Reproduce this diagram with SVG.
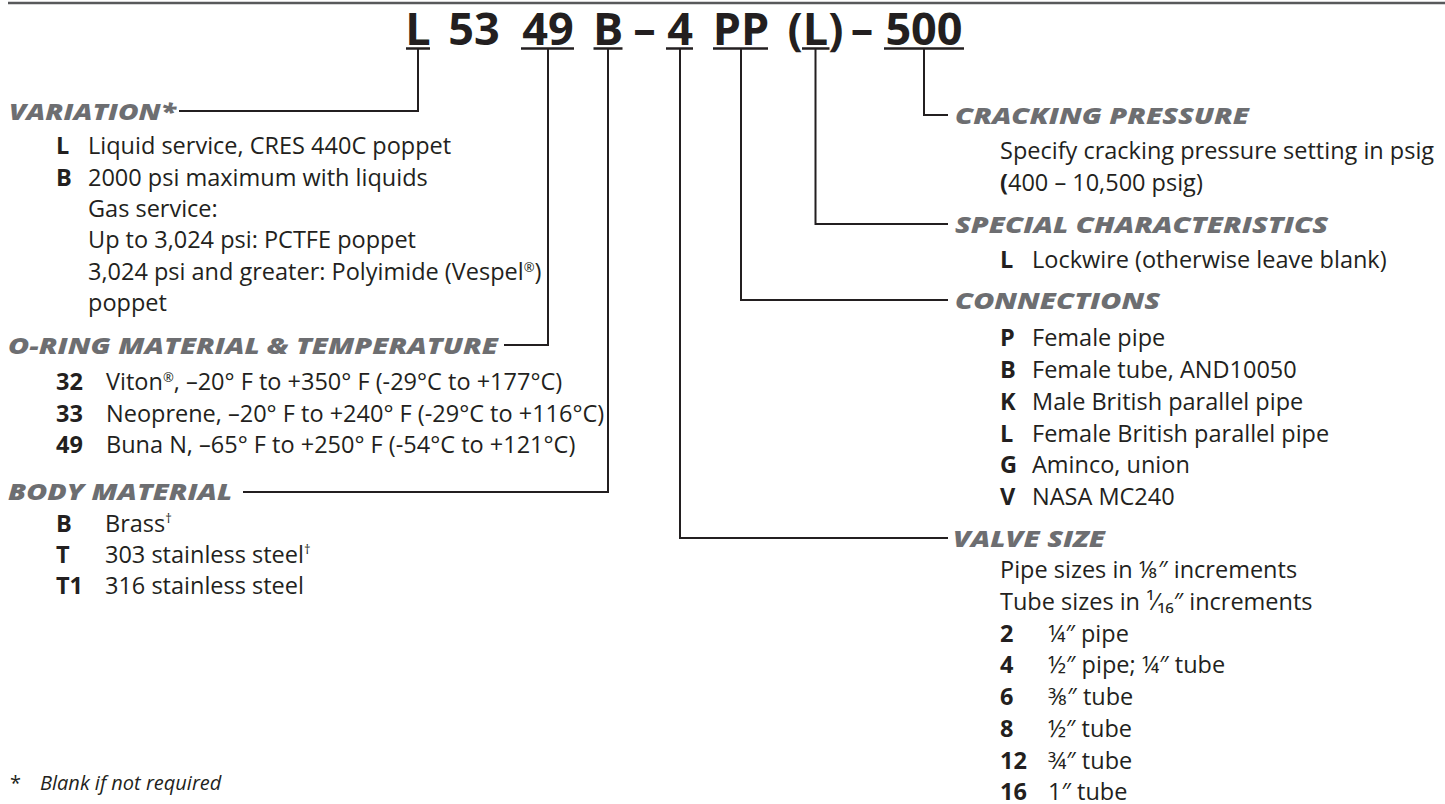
<svg xmlns="http://www.w3.org/2000/svg" width="1445" height="804" viewBox="0 0 1445 804">
<style>
.t{font-family:"Open Sans","Noto Sans","DejaVu Sans",sans-serif;font-size:23.5px;fill:#231f20}
.b{font-weight:700}
.h{font-family:"Open Sans","Noto Sans","DejaVu Sans",sans-serif;font-size:23.5px;font-weight:800;font-style:italic;fill:#6d6e71}
.ti{font-family:"Open Sans","Noto Sans","DejaVu Sans",sans-serif;font-size:45px;font-weight:700;fill:#231f20;text-anchor:middle}
.ln{stroke:#231f20;stroke-width:2;fill:none}
.ul{stroke:#231f20;stroke-width:2.5}
.rule{stroke:#58595b;stroke-width:2.5}
.fn{font-family:"Open Sans","Noto Sans","DejaVu Sans",sans-serif;font-size:20px;fill:#231f20}
</style>
<line class="rule" x1="8" y1="3" x2="1445" y2="3"/>
<g id="code">
<text class="ti" x="418" y="45">L</text>
<text class="ti" x="474" y="45">53</text>
<text class="ti" x="548" y="45">49</text>
<text class="ti" x="608" y="45">B</text>
<text class="ti" x="644.5" y="45">–</text>
<text class="ti" x="680" y="45">4</text>
<text class="ti" x="741" y="45">PP</text>
<text class="ti" x="815.5" y="45">(L)</text>
<text class="ti" x="862" y="45">–</text>
<text class="ti" x="924" y="45">500</text>
<line class="ul" x1="406" y1="48.5" x2="430" y2="48.5"/>
<line class="ul" x1="521" y1="48.5" x2="574" y2="48.5"/>
<line class="ul" x1="593.5" y1="48.5" x2="622.5" y2="48.5"/>
<line class="ul" x1="666" y1="48.5" x2="693" y2="48.5"/>
<line class="ul" x1="713" y1="48.5" x2="768" y2="48.5"/>
<line class="ul" x1="802" y1="48.5" x2="829.5" y2="48.5"/>
<line class="ul" x1="884" y1="48.5" x2="964" y2="48.5"/>
</g>
<g id="connectors">
<path class="ln" d="M418 48.5V111H179"/>
<path class="ln" d="M548 48.5V345H504"/>
<path class="ln" d="M608 48.5V492H243"/>
<path class="ln" d="M680 48.5V538H948"/>
<path class="ln" d="M741 48.5V300H948"/>
<path class="ln" d="M815.5 48.5V224H948"/>
<path class="ln" d="M924 48.5V115H948"/>
</g>
<g id="variation">
<text class="h" x="9" y="120" textLength="167" lengthAdjust="spacingAndGlyphs">VARIATION*</text>
<text class="t b" x="56" y="153.5">L</text><text class="t" x="88" y="153.5">Liquid service, CRES 440C poppet</text>
<text class="t b" x="56" y="185.5">B</text><text class="t" x="88" y="185.5">2000 psi maximum with liquids</text>
<text class="t" x="88" y="216.5">Gas service:</text>
<text class="t" x="88" y="247.5">Up to 3,024 psi: PCTFE poppet</text>
<text class="t" x="88" y="279.5">3,024 psi and greater: Polyimide (Vespel<tspan dy="-8" font-size="13">®</tspan><tspan dy="8">)</tspan></text>
<text class="t" x="88" y="310.5">poppet</text>
</g>
<g id="oring">
<text class="h" x="8" y="354" textLength="490" lengthAdjust="spacingAndGlyphs">O-RING MATERIAL &amp; TEMPERATURE</text>
<text class="t b" x="56" y="389.5">32</text><text class="t" x="106" y="389.5">Viton<tspan dy="-8" font-size="13">®</tspan><tspan dy="8">, –20° F to +350° F (-29°C to +177°C)</tspan></text>
<text class="t b" x="56" y="421.5">33</text><text class="t" x="106" y="421.5">Neoprene, –20° F to +240° F (-29°C to +116°C)</text>
<text class="t b" x="56" y="453">49</text><text class="t" x="106" y="453">Buna N, –65° F to +250° F (-54°C to +121°C)</text>
</g>
<g id="body">
<text class="h" x="8" y="499.5" textLength="224" lengthAdjust="spacingAndGlyphs">BODY MATERIAL</text>
<text class="t b" x="56" y="532">B</text><text class="t" x="105" y="532">Brass<tspan dy="-9" font-size="13">†</tspan></text>
<text class="t b" x="56" y="563">T</text><text class="t" x="105" y="563">303 stainless steel<tspan dy="-9" font-size="13">†</tspan></text>
<text class="t b" x="56" y="594">T1</text><text class="t" x="105" y="594">316 stainless steel</text>
</g>
<g id="cracking">
<text class="h" x="955" y="123.5" textLength="294" lengthAdjust="spacingAndGlyphs">CRACKING PRESSURE</text>
<text class="t" x="1000" y="158.5">Specify cracking pressure setting in psig</text>
<text class="t" x="1000" y="190.5"><tspan class="b">(</tspan>400 – 10,500 psig)</text>
</g>
<g id="special">
<text class="h" x="955" y="232.5" textLength="373" lengthAdjust="spacingAndGlyphs">SPECIAL CHARACTERISTICS</text>
<text class="t b" x="1000" y="267.5">L</text><text class="t" x="1032" y="267.5">Lockwire (otherwise leave blank)</text>
</g>
<g id="connections">
<text class="h" x="955" y="308.5" textLength="205" lengthAdjust="spacingAndGlyphs">CONNECTIONS</text>
<text class="t b" x="1000" y="345.5">P</text><text class="t" x="1032" y="345.5">Female pipe</text>
<text class="t b" x="1000" y="377.5">B</text><text class="t" x="1032" y="377.5">Female tube, AND10050</text>
<text class="t b" x="1000" y="409.5">K</text><text class="t" x="1032" y="409.5">Male British parallel pipe</text>
<text class="t b" x="1000" y="441.5">L</text><text class="t" x="1032" y="441.5">Female British parallel pipe</text>
<text class="t b" x="1000" y="472.5">G</text><text class="t" x="1032" y="472.5">Aminco, union</text>
<text class="t b" x="1000" y="504.5">V</text><text class="t" x="1032" y="504.5">NASA MC240</text>
</g>
<g id="valvesize">
<text class="h" x="953" y="546.5" textLength="152" lengthAdjust="spacingAndGlyphs">VALVE SIZE</text>
<text class="t" x="1000" y="577.5">Pipe sizes in ⅛″ increments</text>
<text class="t" x="1000" y="609.5">Tube sizes in ¹⁄₁₆″ increments</text>
<text class="t b" x="1000" y="641.5">2</text><text class="t" x="1048" y="641.5">¼″ pipe</text>
<text class="t b" x="1000" y="672.5">4</text><text class="t" x="1048" y="672.5">½″ pipe; ¼″ tube</text>
<text class="t b" x="1000" y="704.5">6</text><text class="t" x="1048" y="704.5">⅜″ tube</text>
<text class="t b" x="1000" y="736.5">8</text><text class="t" x="1048" y="736.5">½″ tube</text>
<text class="t b" x="1000" y="768.5">12</text><text class="t" x="1048" y="768.5">¾″ tube</text>
<text class="t b" x="1000" y="799.5">16</text><text class="t" x="1048" y="799.5">1″ tube</text>
</g>
<g id="footnote">
<text class="fn" x="10" y="790">*</text>
<text class="fn" x="40" y="790" font-style="italic">Blank if not required</text>
</g>
</svg>
